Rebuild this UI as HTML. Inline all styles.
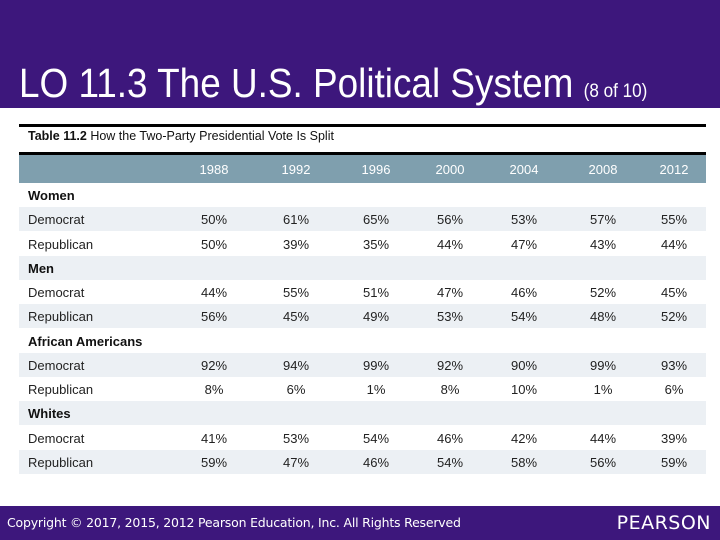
<!DOCTYPE html>
<html><head><meta charset="utf-8"><style>
body{margin:0;width:720px;height:540px;background:#fff;position:relative;overflow:hidden;font-family:"Liberation Sans",sans-serif}
#hdr{position:absolute;left:0;top:0;width:720px;height:108px;background:#3d177c}
#title{position:absolute;left:19px;top:63px;color:#fff;font-size:41px;line-height:1;white-space:nowrap;transform:scaleX(0.9);transform-origin:0 0}
#title small{font-size:19px}
.line{position:absolute;left:19px;width:687px;height:3px;background:#000}
#cap{position:absolute;left:28px;top:129px;font-size:12.5px;color:#111}
#thead{position:absolute;left:19px;top:155px;width:687px;height:28px;background:#7f9fae}
.row{position:absolute;left:19px;width:687px;height:24px}
.t{position:absolute;font-size:13px;color:#222;white-space:nowrap}
.c{transform:translateX(-50%)}
#ftr{position:absolute;left:0;top:506px;width:720px;height:34px;background:#3d177c}
</style></head><body>
<div id="hdr"></div>
<div id="title">LO 11.3 The U.S. Political System <small>(8 of 10)</small></div>
<div class="line" style="top:124px"></div>
<div id="cap"><b>Table 11.2</b> How the Two-Party Presidential Vote Is Split</div>
<div class="line" style="top:152px"></div>
<div id="thead"></div>
<div id="tbl"></div>
<div id="ftr">
<div style="position:absolute;left:7px;top:9px;color:#fff;font-size:12.5px;font-family:'DejaVu Sans',sans-serif;letter-spacing:-0.2px">Copyright © 2017, 2015, 2012 Pearson Education, Inc. All Rights Reserved</div>
<div style="position:absolute;right:9px;top:6px;color:#fff;font-size:19px;font-family:'DejaVu Sans',sans-serif;letter-spacing:0.5px">PEARSON</div>
</div>
<script>
const years=["1988","1992","1996","2000","2004","2008","2012"];
const groups=["Women","Men","African Americans","Whites"];
const dem=[[50,61,65,56,53,57,55],[44,55,51,47,46,52,45],[92,94,99,92,90,99,93],[41,53,54,46,42,44,39]];
const rep=[[50,39,35,44,47,43,44],[56,45,49,53,54,48,52],[8,6,1,8,10,1,6],[59,47,46,54,58,56,59]];
const colX=[214,296,376,450,524,603,674];
const body=document.body;
function txt(s,x,y,cls,extra){const d=document.createElement('div');d.className='t '+(cls||'');d.style.left=x+'px';d.style.top=y+'px';if(extra)d.style.cssText+=extra;d.textContent=s;body.appendChild(d);return d;}
years.forEach((y,i)=>{const d=txt(y,colX[i],162,'c','color:#fff');

});
let r=0;const top0=183,rh=24.25;
function row(bg){const d=document.createElement('div');d.className='row';d.style.top=(top0+r*rh)+'px';d.style.background=bg;body.appendChild(d);return d;}
groups.forEach((g,gi)=>{
 [["g"],["Democrat",dem[gi]],["Republican",rep[gi]]].forEach(item=>{
  const bg=r%2?'#ecf0f4':'#fff';const rw=row(bg);
  
  
  const y=top0+r*rh+5;
  if(item[0]==="g"){const l=txt(g,28,y,'','font-weight:bold;color:#111');
   
   }
  else{const l=txt(item[0],28,y);
   
   
   item[1].forEach((v,i)=>{const c=txt(v+'%',colX[i],y,'c');
    
    });}
  r++;});
});
</script>
</body></html>
